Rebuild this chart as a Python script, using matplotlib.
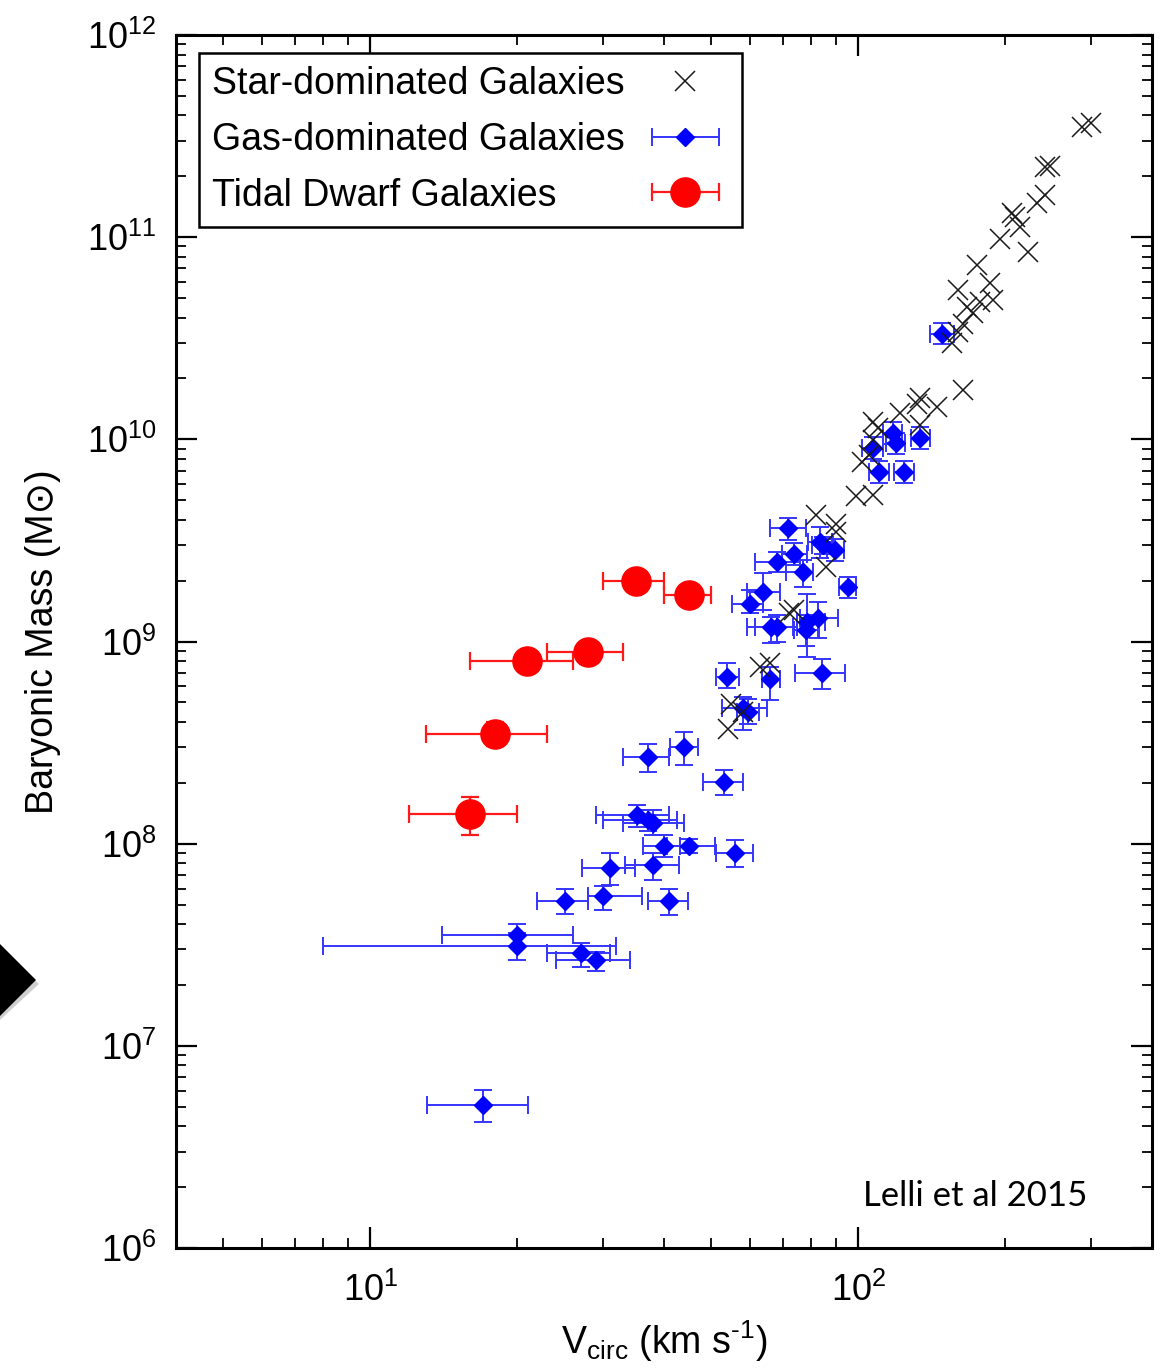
import numpy as np
import matplotlib
matplotlib.use("Agg")
import matplotlib.pyplot as plt
from matplotlib.container import ErrorbarContainer
from matplotlib.legend_handler import HandlerErrorbar
from matplotlib.patches import Polygon
from matplotlib.ticker import LogLocator, NullFormatter

plt.rcParams['font.family'] = ['Liberation Sans', 'DejaVu Sans']
plt.rcParams['mathtext.fontset'] = 'custom'
plt.rcParams['mathtext.rm'] = 'Liberation Sans'
plt.rcParams['mathtext.it'] = 'Liberation Sans:italic'
plt.rcParams['mathtext.bf'] = 'Liberation Sans:bold'

# star-dominated galaxies (no error bars)
v_star = [300, 287, 247, 241, 241, 232, 207, 210, 215, 223, 195, 175, 160, 186, 189,
          178, 167, 172, 164, 160, 156, 164, 134, 132, 122, 134, 145, 110, 107, 107,
          105, 102, 99, 107, 82, 90, 90, 86, 72, 74, 66, 63, 58, 55, 54]
m_star = [3.67e11, 3.51e11, 2.25e11, 2.22e11, 1.62e11, 1.48e11, 1.32e11, 1.26e11, 1.12e11,
          8.4e10, 9.8e10, 7.3e10, 5.5e10, 5.9e10, 4.9e10, 4.8e10, 4.5e10, 4.2e10, 3.7e10,
          3.4e10, 3.0e10, 1.76e10, 1.6e10, 1.5e10, 1.35e10, 1.18e10, 1.45e10, 1.14e10,
          1.22e10, 9.9e9, 8.4e9, 7.7e9, 5.25e9, 5.3e9, 4.2e9, 3.8e9, 3.5e9, 2.34e9,
          1.38e9, 1.43e9, 7.8e8, 7.5e8, 4.5e8, 4.9e8, 3.7e8]

# gas-dominated galaxies
v_gas = [37.1, 44.0, 53.1, 35.2, 37.1, 38.0, 40.0, 45.0, 55.9, 31.0, 38.0, 25.1, 30.0,
         41.0, 20.0, 20.0, 27.0, 29.0, 17.0, 71.8, 68.2, 73.9, 77.1, 83.5, 84.7, 89.6,
         95.3, 63.8, 60.0, 66.3, 68.2, 78.5, 82.7, 78.2, 84.3, 53.8, 66.0, 58.1, 59.5,
         117.8, 119.5, 107.2, 133.8, 110.3, 124.1, 148.5]
v_gas_lo = [33.0, 41.2, 48.1, 29.0, 30.0, 33.0, 36.2, 40.6, 51.1, 27.2, 33.3, 22.0, 27.9,
            37.1, 14.0, 8.0, 23.0, 24.0, 13.1, 66.0, 61.4, 69.8, 71.1, 78.9, 80.5, 86.3,
            91.3, 59.2, 55.1, 59.2, 61.4, 74.9, 76.0, 74.0, 74.2, 51.1, 63.5, 52.6, 56.5,
            112.5, 114.0, 102.0, 128.0, 105.0, 118.5, 140.0]
v_gas_hi = [41.0, 47.0, 58.1, 41.0, 42.5, 44.0, 43.1, 50.9, 60.9, 34.9, 42.9, 27.9, 36.1,
            44.8, 26.0, 31.9, 31.0, 34.1, 21.1, 78.2, 76.0, 78.5, 80.8, 88.4, 89.0, 93.5,
            99.0, 69.2, 63.8, 74.9, 73.5, 85.5, 90.9, 83.0, 94.0, 57.0, 69.2, 65.0, 62.5,
            123.0, 125.0, 112.5, 140.0, 115.5, 130.0, 157.0]
m_gas = [2.69e8, 3.01e8, 2.02e8, 1.39e8, 1.31e8, 1.27e8, 9.75e7, 9.75e7, 9.0e7, 7.6e7,
         7.8e7, 5.2e7, 5.5e7, 5.2e7, 3.54e7, 3.12e7, 2.88e7, 2.66e7, 5.1e6, 3.65e9,
         2.48e9, 2.71e9, 2.21e9, 3.11e9, 3.0e9, 2.84e9, 1.86e9, 1.76e9, 1.535e9, 1.18e9,
         1.18e9, 1.25e9, 1.31e9, 1.14e9, 7.0e8, 6.7e8, 6.5e8, 4.7e8, 4.5e8, 1.08e10,
         9.6e9, 9.1e9, 1.02e10, 6.9e9, 6.9e9, 3.32e10]
m_gas_lo = [2.27e8, 2.45e8, 1.74e8, 1.21e8, 1.16e8, 1.105e8, 8.6e7, 9.0e7, 7.67e7, 6.25e7,
            6.62e7, 4.5e7, 4.71e7, 4.45e7, 3.1e7, 2.66e7, 2.46e7, 2.35e7, 4.2e6, 3.18e9,
            2.21e9, 2.4e9, 1.86e9, 2.6e9, 2.7e9, 2.5e9, 1.64e9, 1.43e9, 1.385e9, 9.84e8,
            1.0e9, 8.4e8, 1.04e9, 9.5e8, 5.83e8, 5.89e8, 5.14e8, 3.66e8, 3.9e8, 9.5e9,
            8.5e9, 8.0e9, 9.0e9, 6.1e9, 6.1e9, 2.95e10]
m_gas_hi = [3.12e8, 3.57e8, 2.32e8, 1.56e8, 1.47e8, 1.47e8, 1.105e8, 1.05e8, 1.044e8, 9.0e7,
            9.0e7, 5.98e7, 6.18e7, 5.98e7, 4.01e7, 3.6e7, 3.23e7, 2.92e7, 6.06e6, 4.08e9,
            2.77e9, 3.07e9, 2.53e9, 3.69e9, 3.3e9, 3.2e9, 2.09e9, 2.18e9, 1.8e9, 1.32e9,
            1.35e9, 1.72e9, 1.57e9, 1.35e9, 8.2e8, 7.83e8, 7.48e8, 5.32e8, 5.2e8, 1.22e10,
            1.08e10, 1.03e10, 1.15e10, 7.8e9, 7.8e9, 3.75e10]

# tidal dwarf galaxies
v_tdg = [35, 45, 21, 28, 18, 16]
v_tdg_lo = [30, 40, 16, 23, 13, 12]
v_tdg_hi = [40, 50, 26, 33, 23, 20]
m_tdg = [2.0e9, 1.7e9, 8.0e8, 8.9e8, 3.5e8, 1.4e8]
m_tdg_lo = [1.9e9, 1.6e9, 7.6e8, 7.7e8, 3.05e8, 1.1e8]
m_tdg_hi = [2.1e9, 1.8e9, 8.4e8, 1.0e9, 4.0e8, 1.7e8]

labels = ['Star-dominated Galaxies', 'Gas-dominated Galaxies', 'Tidal Dwarf Galaxies']
x_major = [10, 100]
y_major = [1e6, 1e7, 1e8, 1e9, 1e10, 1e11, 1e12]


def asym(val, lo, hi):
    val = np.array(val)
    return [val - np.array(lo), np.array(hi) - val]


gas_style = dict(fmt='D', color='#0000ff', ms=9.5, mec='#0000ff', ecolor='#3535ff',
                 elinewidth=1.4, capsize=6.5, capthick=1.4)
tdg_style = dict(fmt='o', color='#ff0000', ms=21, mec='#ff0000', ecolor='#ff1a1a',
                 elinewidth=1.6, capsize=6.5, capthick=1.6)

W, H = 1169, 1369
fig = plt.figure(figsize=(W / 100, H / 100), dpi=100)
ax = fig.add_axes([176 / W, 1 - 1248 / H, 976 / W, 1213 / H])
ax.set_xscale('log')
ax.set_yscale('log')

ax.errorbar(v_gas, m_gas, xerr=asym(v_gas, v_gas_lo, v_gas_hi),
            yerr=asym(m_gas, m_gas_lo, m_gas_hi), zorder=2, **gas_style)
st, = ax.plot(v_star, m_star, 'x', color='#1a1a1a', ms=14.5, mew=1.1, zorder=3)
ax.errorbar(v_tdg, m_tdg, xerr=asym(v_tdg, v_tdg_lo, v_tdg_hi),
            yerr=asym(m_tdg, m_tdg_lo, m_tdg_hi), zorder=4, **tdg_style)

# legend proxies with horizontal bars only
h_gas = ax.errorbar([np.nan], [np.nan], xerr=[1], **gas_style)
h_tdg = ax.errorbar([np.nan], [np.nan], xerr=[1], **tdg_style)

ax.set_xlim(4, 400)
ax.set_ylim(1e6, 1e12)
ax.set_xticks(x_major)
ax.set_yticks(y_major)
for axis in (ax.xaxis, ax.yaxis):
    axis.set_minor_locator(LogLocator(base=10, subs=np.arange(2, 10), numticks=15))
    axis.set_minor_formatter(NullFormatter())

ax.tick_params(which='both', direction='in', top=True, right=True, labelsize=26)
ax.tick_params(which='major', length=15, width=1.6)
ax.tick_params(which='minor', length=7, width=1.3)
ax.tick_params(axis='y', which='major', pad=14)
ax.tick_params(axis='x', which='major', pad=18)
for s in ax.spines.values():
    s.set_linewidth(2.2)

ax.set_xlabel(r'V$_{\rm circ}$ (km s$^{\text{-1}}$)', fontsize=27)
ax.set_ylabel('Baryonic Mass (M⊙)', fontsize=27)
ax.xaxis.set_label_coords(0.5, -0.058)
ax.yaxis.set_label_coords(-0.118, 0.5)

leg = ax.legend([st, h_gas, h_tdg], labels,
                loc='upper left', bbox_to_anchor=((199 - 176) / 976, 1 - (53 - 35) / 1213),
                borderaxespad=0, markerfirst=False, fontsize=27, numpoints=1,
                handlelength=2.3, handletextpad=0.45, borderpad=0.36, labelspacing=0.52,
                fancybox=False, framealpha=1, edgecolor='black',
                handler_map={ErrorbarContainer: HandlerErrorbar(xerr_size=0.9)})
leg.get_frame().set_linewidth(1.8)

# left-align the labels while keeping the handles in one column on the right
fig.canvas.draw()
renderer = fig.canvas.get_renderer()
items = leg._legend_handle_box.get_children()[0].get_children()
wmax = max(it.get_bbox(renderer).width for it in items)
for it in items:
    it.width = wmax
    it.mode = 'expand'

ax.text(0.819, 0.043, 'Lelli et al 2015', transform=ax.transAxes, fontsize=25,
        family='Lato', ha='center', va='center')

# slide arrow on the left edge
shadow = Polygon([(0, 1 - 948 / H), (39 / W, 1 - 984 / H), (0, 1 - 1020 / H)],
                 closed=True, transform=fig.transFigure, facecolor='#888888', alpha=0.4,
                 edgecolor='none')
tri = Polygon([(0, 1 - 944 / H), (36 / W, 1 - 980 / H), (0, 1 - 1016 / H)],
              closed=True, transform=fig.transFigure, facecolor='black', edgecolor='none')
fig.patches.extend([shadow, tri])

fig.savefig('out.png', dpi=100)
